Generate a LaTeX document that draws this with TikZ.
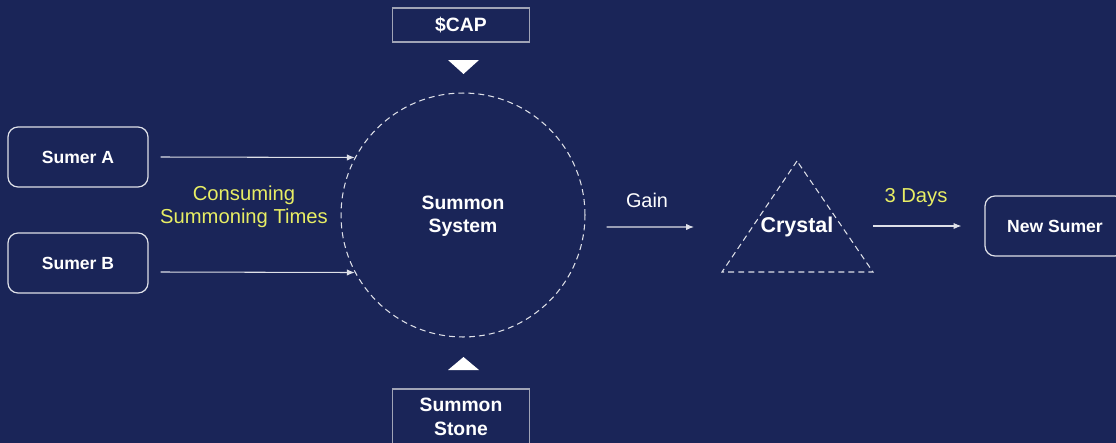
\documentclass[tikz,border=0pt]{standalone}
\usepackage{fontspec}
\setmainfont{Liberation Sans}
\usetikzlibrary{arrows.meta}
\definecolor{navy}{RGB}{26,37,88}
\definecolor{lemon}{RGB}{232,238,100}
\definecolor{edgegray}{RGB}{160,164,182}
\definecolor{linegray}{RGB}{222,224,232}

\begin{document}
\begin{tikzpicture}[x=0.02cm, y=-0.02cm,
    sumerbox/.style={draw=linegray, line width=0.7pt, rounded corners=0.2cm, minimum width=2.8cm, minimum height=1.2cm, text=white, font=\fontsize{10}{12}\selectfont\bfseries},
    tokenbox/.style={draw=edgegray, line width=0.7pt, minimum width=2.74cm, text=white, align=center, font=\fontsize{11}{13.5}\selectfont\bfseries},
    note/.style={text=lemon, align=center, font=\fontsize{11.5}{13}\selectfont},
    flow/.style={->, draw=linegray, line width=0.6pt},
    dashline/.style={draw=linegray, line width=0.6pt, dash pattern=on 3.4pt off 2.3pt}]
    \tikzset{>={Latex[length=4.5pt,width=3.6pt]}}
    \useasboundingbox (0,0) rectangle (1116,443);
    \clip (0,0) rectangle (1116,443);
    \fill [navy] (0,0) rectangle (1116,443);

    \node (sys) at (463,215) [circle, dashline, minimum size=4.88cm, text=white, align=center, font=\fontsize{11}{13}\selectfont\bfseries] {\\[-0.12cm]Summon\\System};

    \foreach \n/\y in {A/157,B/263}{
	\node (sumer\n) at (78,\y) [sumerbox] {Sumer \n};
    }
    \node (cap) at (461,25) [tokenbox, minimum height=0.68cm] {\$CAP};
    \node (stone) at (461,417) [tokenbox, minimum height=1.12cm] {Summon\\Stone};
    \node (newsumer) at (1055,226) [sumerbox] {New Sumer};

    \coordinate (crtop) at (797,161);
    \coordinate (crleft) at (722,272);
    \coordinate (crright) at (873,272);
    \draw [dashline] (crtop) -- (crleft) -- (crright) -- cycle;
    \node (crystal) at (797,227) [text=white, font=\fontsize{12.2}{14}\selectfont\bfseries] {Crystal};

    \fill [white] (448,60) -- (479,60) -- (463.5,74) -- cycle;
    \fill [white] (448,370) -- (479,370) -- (463.5,357) -- cycle;

    \draw [flow] ([xshift=0.24cm]sumerA.east) -- (sys.152);
    \draw [flow] ([xshift=0.24cm,yshift=-0.18cm]sumerB.east) -- (sys.208);
    \node (consume) at (244,207) [note] {Consuming\\Summoning Times};

    \coordinate (gainend) at (694,227);
    \draw [flow] ([xshift=0.42cm,yshift=-0.24cm]sys.east) -- (gainend);
    \node (gain) at (647,200) [text=white, font=\fontsize{11.3}{13}\selectfont] {Gain};

    \coordinate (daysstart) at (873,226);
    \draw [flow] (daysstart) -- ([xshift=-0.46cm]newsumer.west);
    \node (days) at (916,198) [note] {3 Days};

    % \draw [help lines, step=50] (0,0) grid (1116,443);
\end{tikzpicture}
\end{document}
